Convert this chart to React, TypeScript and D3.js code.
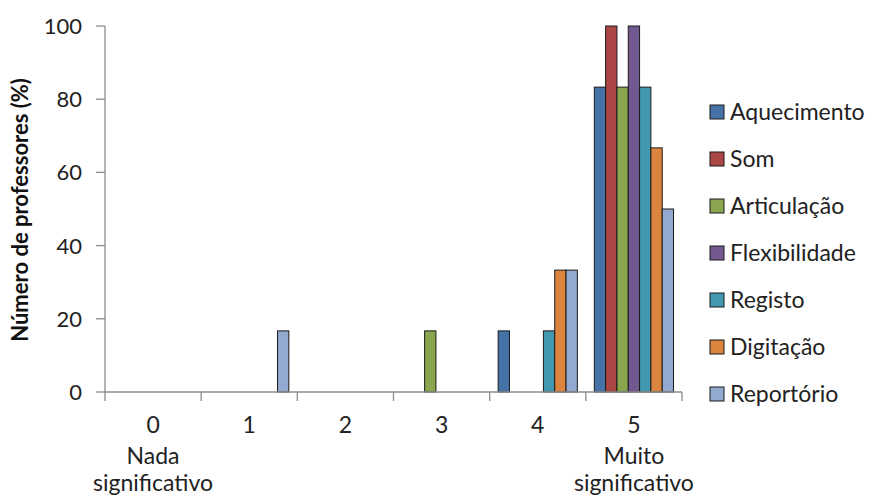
import React from 'react';
import * as d3 from 'd3';

const categories = ['0', '1', '2', '3', '4', '5'];
const subLabels: Record<string, string[]> = {
  '0': ['Nada', 'significativo'],
  '5': ['Muito', 'significativo'],
};
const series = ['Aquecimento', 'Som', 'Articulação', 'Flexibilidade', 'Registo', 'Digitação', 'Reportório'];
const colors = ['#4572A7', '#AA4643', '#89A54E', '#71588F', '#4198AF', '#DB843D', '#93A9CF'];
// values per series, one per category 0..5
const aquecimento = [0, 0, 0, 0, 16.7, 83.3];
const som = [0, 0, 0, 0, 0, 100];
const articulacao = [0, 0, 0, 16.7, 0, 83.3];
const flexibilidade = [0, 0, 0, 0, 0, 100];
const registo = [0, 0, 0, 0, 16.7, 83.3];
const digitacao = [0, 0, 0, 0, 33.3, 66.7];
const reportorio = [0, 16.7, 0, 0, 33.3, 50];
const values = [aquecimento, som, articulacao, flexibilidade, registo, digitacao, reportorio];
const yTicks = [0, 20, 40, 60, 80, 100];

const W = 874, H = 499;
const FONT = 'Lato, sans-serif';

export default function App() {
  const x = d3.scaleBand().domain(categories).range([105, 682]).paddingInner(0).paddingOuter(0);
  const xs = d3.scaleBand().domain(series).range([0, x.bandwidth()]).paddingInner(0).paddingOuter(0.75);
  const y = d3.scaleLinear().domain([0, 100]).range([392, 26]);
  const axisColor = '#8c8c8c';
  const lineY = [433, 464, 491];

  return (
    <svg width={W} height={H} style={{ position: 'absolute', left: 0, top: 0, background: '#fff' }} fontFamily={FONT}>
      {/* bars */}
      {series.map((s, si) =>
        categories.map((c, ci) => {
          const v = values[si][ci];
          if (!v) return null;
          return (
            <rect key={s + c}
              x={(x(c) as number) + (xs(s) as number)}
              y={y(v)}
              width={xs.bandwidth()}
              height={y(0) - y(v)}
              fill={colors[si]}
              stroke="#1a1a1a" strokeWidth={1} />
          );
        })
      )}
      {/* y axis */}
      <line x1={105} x2={105} y1={y(100)} y2={y(0)} stroke={axisColor} strokeWidth={1.3} />
      {yTicks.map(t => (
        <g key={t}>
          <line x1={96} x2={105} y1={y(t)} y2={y(t)} stroke={axisColor} strokeWidth={1.3} />
          <text x={82} y={y(t)} dy="0.36em" textAnchor="end" fontSize={22} fill="#222">{t}</text>
        </g>
      ))}
      {/* x axis */}
      <line x1={105} x2={682} y1={y(0)} y2={y(0)} stroke={axisColor} strokeWidth={1.3} />
      {categories.concat(['end']).map((c, i) => {
        const px = i < categories.length ? (x(c) as number) : 682;
        return <line key={'t' + c} x1={px} x2={px} y1={y(0)} y2={y(0) + 9} stroke={axisColor} strokeWidth={1.3} />;
      })}
      {categories.map(c => {
        const cx = (x(c) as number) + x.bandwidth() / 2;
        const lines = [c].concat(subLabels[c] || []);
        return (
          <text key={'l' + c} textAnchor="middle" fontSize={23} fill="#222">
            {lines.map((l, li) => (
              <tspan key={li} x={cx} y={lineY[li]}>{l}</tspan>
            ))}
          </text>
        );
      })}
      {/* y title */}
      <text transform={`translate(28,210) rotate(-90)`} textAnchor="middle" fontSize={22} fontWeight="bold" fill="#111">
        Número de professores (%)
      </text>
      {/* legend */}
      {series.map((s, i) => {
        const ly = 112 + i * 47;
        return (
          <g key={'lg' + s}>
            <rect x={710} y={ly - 7} width={14} height={14} fill={colors[i]} stroke="#1a1a1a" strokeWidth={1} />
            <text x={730} y={ly} dy="0.36em" fontSize={23} fill="#222">{s}</text>
          </g>
        );
      })}
    </svg>
  );
}
